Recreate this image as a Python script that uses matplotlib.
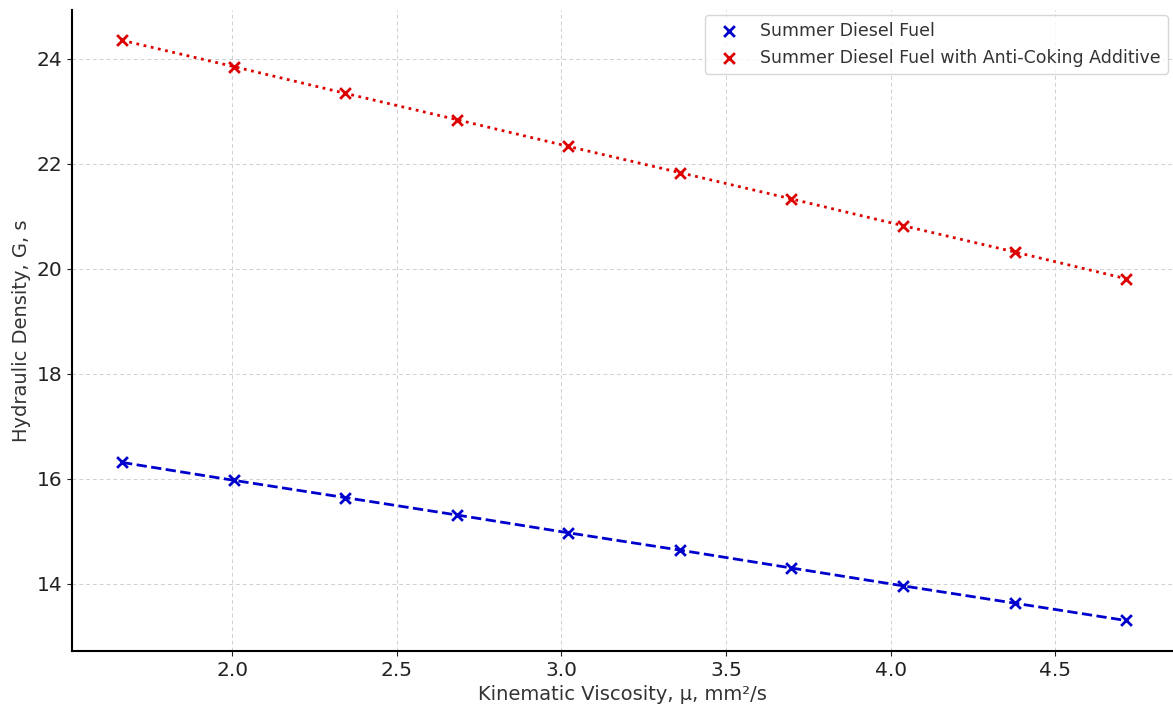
import matplotlib.pyplot as plt

viscosity = [1.666, 2.005, 2.344, 2.682, 3.021, 3.36, 3.698, 4.037, 4.376, 4.714]
density_summer = [16.31, 15.97, 15.64, 15.31, 14.97, 14.64, 14.30, 13.96, 13.63, 13.30]
density_additive = [24.35, 23.85, 23.34, 22.84, 22.33, 21.83, 21.33, 20.82, 20.32, 19.81]

fig = plt.figure(figsize=(11.73, 7.06), dpi=100)
ax = fig.add_axes([0.0614, 0.078, 0.9386, 0.908])

ax.scatter(viscosity, density_summer, marker='x', color='#0000cc', s=60, linewidths=2,
           label='Summer Diesel Fuel', zorder=3)
ax.plot(viscosity, density_summer, linestyle='--', color='#0000cc', linewidth=2)
ax.scatter(viscosity, density_additive, marker='x', color='#dd0000', s=60, linewidths=2,
           label='Summer Diesel Fuel with Anti-Coking Additive', zorder=3)
ax.plot(viscosity, density_additive, linestyle=':', color='#dd0000', linewidth=2)

ax.set_xlim(1.514, 4.857)
ax.set_ylim(12.72, 24.93)
ax.set_xticks([2.0, 2.5, 3.0, 3.5, 4.0, 4.5])
ax.set_yticks([14, 16, 18, 20, 22, 24])
ax.tick_params(labelsize=14.5, colors='#222222')
ax.grid(True, linestyle=(0, (4, 3)), color='#d0d0d0', linewidth=0.7)
ax.set_axisbelow(True)
for s in ['top', 'right']:
    ax.spines[s].set_visible(False)
ax.spines['left'].set_linewidth(1.5)
ax.spines['bottom'].set_linewidth(1.5)

ax.set_xlabel('Kinematic Viscosity, μ, mm²/s', fontsize=14, color='#333333')
ax.set_ylabel('Hydraulic Density, G, s', fontsize=14, color='#333333')
ax.legend(loc='upper right', fontsize=12.5, labelcolor='#333333', borderaxespad=0.3)

fig.savefig('out.png', dpi=100)
